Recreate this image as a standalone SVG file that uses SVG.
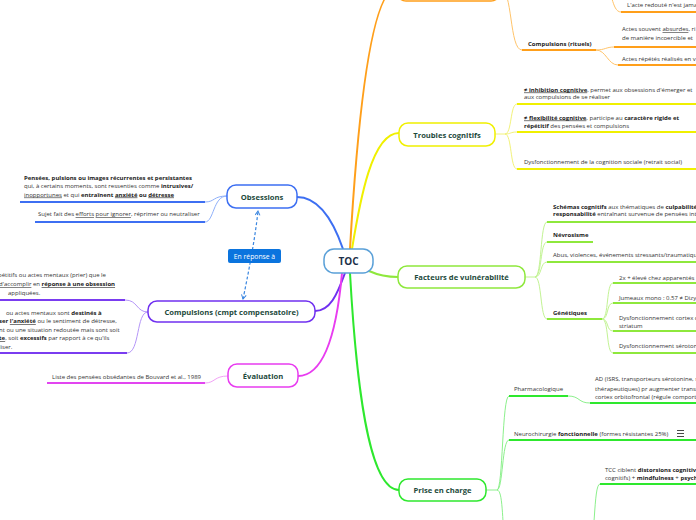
<svg xmlns="http://www.w3.org/2000/svg" width="696" height="520" viewBox="0 0 696 520">
<defs>
<style>
.t{font-family:"Open Sans","Noto Sans",sans-serif;font-size:6px;fill:#333}
.b{font-weight:bold;fill:#222}
.u{text-decoration:underline}
.nt{font-family:"Open Sans","Noto Sans",sans-serif;font-size:7.6px;font-weight:bold;fill:#1d4a3c;text-anchor:middle}
.node{fill:#fff;stroke-width:1.5}
.main{fill:none;stroke-width:2}
.ul{fill:none;stroke-width:2}
.cv{fill:none;stroke-width:1}
</style>
<marker id="ah" viewBox="0 0 10 10" refX="8" refY="5" markerWidth="5" markerHeight="5" orient="auto-start-reverse">
<path d="M1,1 L8,5 L1,9" fill="none" stroke="#3a86e0" stroke-width="1.6"/>
</marker>
</defs>
<rect width="696" height="520" fill="#fff"/>

<g id="connectors">
<path class="main" stroke="#3d6ff2" d="M297,197 C318,197 333,220 343,249"/>
<path class="main" stroke="#ff9f1a" d="M350,249 C358,110 372,-12 397,-12"/>
<path class="main" stroke="#f0f000" d="M352,249 C360,200 372,133 399,133"/>
<path class="main" stroke="#8ee83c" d="M369,271 C380,276 388,277 398,277"/>
<path class="main" stroke="#2ee82e" d="M350,273 C356,380 368,490 399,490"/>
<path class="main" stroke="#7030f0" d="M345,273 C337,295 330,311 315,311"/>
<path class="main" stroke="#e83cf0" d="M342,273 C336,340 322,376 298,376"/>
<path fill="none" stroke="#3a86e0" stroke-width="1.2" stroke-dasharray="3,2" d="M243,299 C247,280 255,240 258,211" marker-start="url(#ah)" marker-end="url(#ah)"/>

<path class="cv" stroke="#8fb0fa" d="M205,202 C215,202 213,196 227,196 M205,222 C214,222 213,196 227,196"/>
<path class="ul" stroke="#3d6ff2" d="M20,202 H205 M35,222 H205"/>
<path class="cv" stroke="#b596f8" d="M125,300 C138,300 136,312 148,312 M127,353 C140,353 136,312 148,312"/>
<path class="ul" stroke="#7a3cf0" d="M0,300 H125 M0,353 H127"/>
<path class="cv" stroke="#f2a2f6" d="M205,383 C215,383 214,376 228,376"/>
<path class="ul" stroke="#e245f0" d="M47,383 H205"/>

<path class="cv" stroke="#ffc46a" d="M500,-12 C513,-12 509,50 522,50 M596,50 C605,50 606,47 614,47 M596,50 C606,50 608,65 618,65 M603,-14 C613,-14 611,12 621,12"/>
<path class="ul" stroke="#ff9f1a" d="M522,50 H596 M614,47 H696 M618,65 H696 M621,12 H696"/>

<path class="cv" stroke="#f2f27a" d="M495,134 H505 C512,134 510,104 517,104 M505,134 C511,134 510,132 517,132 M505,134 C512,134 510,169 517,169"/>
<path class="ul" stroke="#f0f000" d="M517,104 H696 M517,132 H696 M517,169 H696"/>

<path class="cv" stroke="#c2f393" d="M525,277 H535 C542,277 540,222 547,222 M535,277 C542,277 540,242 547,242 M535,277 C542,277 540,262 547,262 M535,277 C542,277 540,319 547,319 M602,319 C609,319 606,283 613,283 M602,319 C609,319 606,303 613,303 M602,319 C609,319 606,331 613,331 M602,319 C609,319 606,353 613,353"/>
<path class="ul" stroke="#8ee83c" d="M547,222 H696 M547,242 H593 M547,262 H696 M547,319 H602 M613,283 H696 M613,303 H696 M613,331 H696 M613,353 H696"/>

<path class="cv" stroke="#8cf08c" d="M486,490 H497 C503,490 502,396 509,396 M497,490 C503,490 502,440 509,440 M497,490 C503,490 502,520 505,545 M568,396 C580,396 578,403 590,403 M588,548 C596,548 593,484 600,484"/>
<path class="ul" stroke="#2ee82e" d="M509,396 H568 M590,403 H696 M509,440 H696 M600,484 H696"/>
</g>

<g id="toc">
<rect class="node" x="324" y="249" width="49" height="24" rx="10" stroke="#5aa0d8"/>
<text x="348.5" y="264.5" font-family="'Open Sans','Noto Sans',sans-serif" font-size="10" font-weight="bold" fill="#1b2f4a" text-anchor="middle">TOC</text>
</g>

<g id="orange-node">
<rect class="node" x="397" y="-26" width="103" height="27" rx="9" stroke="#ff9f1a"/>
</g>
<g id="orange-children">
<text class="t" x="627" y="7">L'acte redouté n'est jama</text>
<text class="t b" x="528" y="45.5">Compulsions (rituels)</text>
<text class="t" x="622" y="31">Actes souvent <tspan class="u">absurdes</tspan>, ri</text>
<text class="t" x="622" y="40">de manière incoercible et</text>
<text class="t" x="622" y="61">Actes répétés réalisés en v</text>
</g>

<g id="obsessions">
<rect class="node" x="227" y="185" width="70" height="23" rx="9" stroke="#3d6ff2"/>
<text class="nt" x="262" y="199.5">Obsessions</text>
</g>
<g id="obsessions-children">
<text class="t b" x="24" y="179.5">Pensées, pulsions ou images récurrentes et persistantes</text>
<text class="t" x="24" y="188">qui, à certains moments, sont ressenties comme <tspan class="b">intrusives/</tspan></text>
<text class="t" x="24" y="196.5"><tspan class="u">inopportunes</tspan> et qui <tspan class="b">entraînent</tspan> <tspan class="b u">anxiété</tspan> <tspan class="b">ou</tspan> <tspan class="b u">détresse</tspan></text>
<text class="t" x="38" y="216">Sujet fait des <tspan class="u">efforts</tspan> <tspan class="u">pour ignorer</tspan>, réprimer ou neutraliser</text>
</g>

<g id="en-reponse">
<rect x="228" y="249" width="53" height="14" rx="2" fill="#0b74de"/>
<text x="254.5" y="258.5" font-family="'Open Sans','Noto Sans',sans-serif" font-size="6.8" fill="#fff" text-anchor="middle">En réponse à</text>
</g>

<g id="compulsions">
<rect class="node" x="148" y="301" width="167" height="21" rx="9" stroke="#7030f0"/>
<text class="nt" x="231.5" y="314.5">Compulsions (cmpt compensatoire)</text>
</g>
<g id="compulsions-children">
<text class="t" x="-2" y="277">pétitifs ou actes mentaux (prier) que le</text>
<text class="t" x="-1" y="286"><tspan class="u">d'accomplir</tspan> en <tspan class="b u">réponse à une obsession</tspan></text>
<text class="t" x="8" y="294.5">appliquées.</text>
<text class="t" x="6" y="314.5">ou actes mentaux sont <tspan class="b">destinés à</tspan></text>
<text class="t" x="-1" y="323"><tspan class="b">ser</tspan> <tspan class="b u">l'anxiété</tspan> ou le sentiment de détresse,</text>
<text class="t" x="-1" y="331.5">nt ou une situation redoutée mais sont soit</text>
<text class="t" x="-1" y="340"><tspan class="b u">te</tspan>, soit <tspan class="b">excessifs</tspan> par rapport à ce qu'ils</text>
<text class="t" x="-1" y="348.5">liser.</text>
</g>

<g id="evaluation">
<rect class="node" x="228" y="364" width="70" height="23" rx="9" stroke="#e83cf0"/>
<text class="nt" x="263" y="378.5">Évaluation</text>
</g>
<g id="evaluation-children">
<text class="t" x="52" y="378.5">Liste des pensées obsédantes de Bouvard et al., 1989</text>
</g>

<g id="troubles-cognitifs">
<rect class="node" x="399" y="123" width="96" height="23" rx="9" stroke="#f0f000"/>
<text class="nt" x="447" y="137.5">Troubles cognitifs</text>
</g>
<g id="troubles-children">
<text class="t" x="524" y="91.5"><tspan class="b u">≠ inhibition cognitive</tspan>, permet aux obsessions d'émerger et</text>
<text class="t" x="524" y="99">aux compulsions de se réaliser</text>
<text class="t" x="524" y="119.5"><tspan class="b u">≠ flexibilité cognitive</tspan>, participe au <tspan class="b">caractère rigide et</tspan></text>
<text class="t" x="524" y="128"><tspan class="b">répétitif</tspan> des pensées et compulsions</text>
<text class="t" x="524" y="163.5">Dysfonctionnement de la cognition sociale (retrait social)</text>
</g>

<g id="facteurs">
<rect class="node" x="398" y="266" width="127" height="22" rx="9" stroke="#8ee83c"/>
<text class="nt" x="461.5" y="280">Facteurs de vulnérabilité</text>
</g>
<g id="facteurs-children">
<text class="t" x="553" y="208.5"><tspan class="b">Schémas cognitifs</tspan> aux thématiques de <tspan class="b">culpabilité</tspan></text>
<text class="t" x="553" y="216"><tspan class="b">responsabilité</tspan> entraînant survenue de pensées int</text>
<text class="t b" x="553" y="236.5">Névrosisme</text>
<text class="t" x="553" y="257">Abus, violences, événements stressants/traumatiques</text>
<text class="t b" x="553" y="314.5">Génétiques</text>
<text class="t" x="619" y="279.5">2x + élevé chez apparentés</text>
<text class="t" x="619" y="300">Jumeaux mono : 0.57 ≠ Dizy</text>
<text class="t" x="619" y="319.5">Dysfonctionnement cortex o</text>
<text class="t" x="619" y="328">striatum</text>
<text class="t" x="619" y="348">Dysfonctionnement sérotonin</text>
</g>

<g id="prise-en-charge">
<rect class="node" x="399" y="479" width="87" height="22" rx="9" stroke="#2ee82e"/>
<text class="nt" x="442.5" y="493">Prise en charge</text>
</g>
<g id="prise-children">
<text class="t" x="514" y="390.5">Pharmacologique</text>
<text class="t" x="595" y="381">AD (ISRS, transporteurs sérotonine, s</text>
<text class="t" x="595" y="390.5">thérapeutiques) pr augmenter transm</text>
<text class="t" x="595" y="399">cortex orbitofrontal (régule comporte</text>
<text class="t" x="514" y="435.5">Neurochirurgie <tspan class="b">fonctionnelle</tspan> (formes résistantes 25%)</text>
<path d="M677,430.5 H684 M677,433.5 H684 M677,436.5 H684" stroke="#333" stroke-width="0.9"/>
<text class="t" x="605" y="471.5">TCC ciblent <tspan class="b">distorsions cognitiv</tspan></text>
<text class="t" x="605" y="479.5">cognitifs) + <tspan class="b">mindfulness</tspan> + <tspan class="b">psych</tspan></text>
</g>
</svg>
